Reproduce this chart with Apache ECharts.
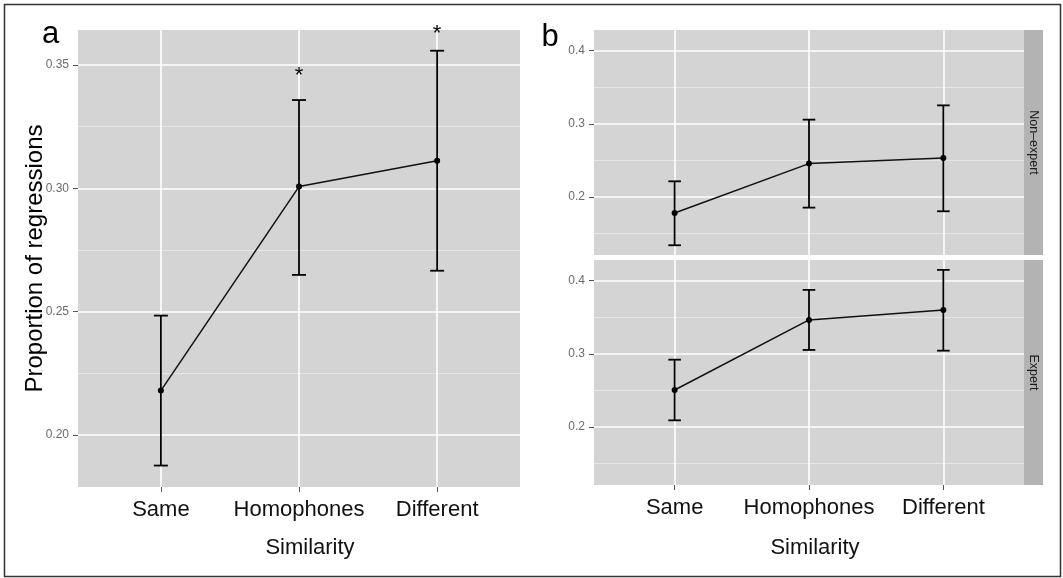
<!DOCTYPE html>
<html>
<head>
<meta charset="utf-8">
<style>
  html, body { margin: 0; padding: 0; background: #fff; }
  #chart { width: 1063px; height: 578px; }
</style>
<script src="https://cdn.jsdelivr.net/npm/echarts@6/dist/echarts.min.js"></script>
</head>
<body>
<div id="chart"></div>
<script>
// x categories
const similarity = ['Same', 'Homophones', 'Different'];

// panel a: proportion of regressions, all readers
const allMean = [0.218, 0.3007, 0.3112];
const allLower = [0.1876, 0.2649, 0.2666];
const allUpper = [0.2484, 0.3358, 0.3558];
const allStarY = [null, 0.3462, 0.3635]; // significance marks

// panel b: split by expertise
const nonExpertMean = [0.1782, 0.2456, 0.2532];
const nonExpertLower = [0.1341, 0.1855, 0.1805];
const nonExpertUpper = [0.2214, 0.3056, 0.3251];
const expertMean = [0.2505, 0.3462, 0.3598];
const expertLower = [0.2091, 0.3052, 0.3042];
const expertUpper = [0.2919, 0.3872, 0.4145];

// tick labels
const yTicksA = [0.20, 0.25, 0.30, 0.35];
const yMinorA = [0.225, 0.275, 0.325];
const yTicksB = [0.2, 0.3, 0.4];
const yMinorB = [0.15, 0.25, 0.35];

const FONT = 'Liberation Sans, Arial, sans-serif';
const xPos = similarity.map((c, i) => i + 1);

const chart = echarts.init(document.getElementById('chart'));

function xAxis(gridIndex, showLabels) {
  return {
    type: 'value', gridIndex: gridIndex, min: 0.4, max: 3.6,
    axisLine: { show: false },
    axisTick: { show: showLabels, customValues: xPos, length: 5, lineStyle: { color: '#555', width: 1 } },
    axisLabel: {
      show: showLabels, customValues: xPos, margin: 12,
      formatter: v => similarity[Math.round(v) - 1],
      fontSize: 22, color: '#111', fontFamily: FONT
    },
    splitLine: { show: true, lineStyle: { color: '#ffffff', width: 1.6 } }
  };
}

function yAxisMajor(gridIndex, min, max, ticks, digits) {
  return {
    type: 'value', gridIndex: gridIndex, min: min, max: max,
    axisLine: { show: false },
    axisTick: { show: true, customValues: ticks, length: 5, lineStyle: { color: '#555', width: 1 } },
    axisLabel: {
      customValues: ticks, margin: 9,
      formatter: v => v.toFixed(digits),
      fontSize: 12, color: '#6b6b6b', fontFamily: FONT
    },
    splitLine: { show: true, lineStyle: { color: '#ffffff', width: 1.6 } }
  };
}

function yAxisMinor(gridIndex, min, max, ticks) {
  return {
    type: 'value', gridIndex: gridIndex, min: min, max: max, position: 'left',
    axisLine: { show: false },
    axisTick: { show: false, customValues: ticks },
    axisLabel: { show: false, customValues: ticks },
    splitLine: { show: true, lineStyle: { color: '#e6e6e6', width: 1 } }
  };
}

function errorBars(capHalf) {
  return function (params, api) {
    const x = api.value(0);
    const lo = api.coord([x, api.value(1)]);
    const hi = api.coord([x, api.value(2)]);
    const st = { stroke: '#000', lineWidth: 1.8 };
    return {
      type: 'group',
      children: [
        { type: 'line', shape: { x1: lo[0], y1: lo[1], x2: hi[0], y2: hi[1] }, style: st },
        { type: 'line', shape: { x1: lo[0] - capHalf, y1: lo[1], x2: lo[0] + capHalf, y2: lo[1] }, style: st },
        { type: 'line', shape: { x1: hi[0] - capHalf, y1: hi[1], x2: hi[0] + capHalf, y2: hi[1] }, style: st }
      ]
    };
  };
}

function lineSeries(axisIdx, means) {
  return {
    type: 'line', xAxisIndex: axisIdx, yAxisIndex: axisIdx * 2,
    data: means.map((v, i) => [xPos[i], v]),
    symbol: 'circle', symbolSize: 6, showSymbol: true,
    itemStyle: { color: '#000' },
    lineStyle: { color: '#111', width: 1.5 },
    z: 4, silent: true
  };
}

function barSeries(axisIdx, lower, upper, capHalf) {
  return {
    type: 'custom', xAxisIndex: axisIdx, yAxisIndex: axisIdx * 2,
    data: lower.map((v, i) => [xPos[i], v, upper[i]]),
    encode: { x: 0, y: [1, 2] },
    renderItem: errorBars(capHalf),
    z: 3, silent: true
  };
}

const stripStyle = { fill: '#b3b3b3' };

chart.setOption({
  animation: false,
  backgroundColor: '#ffffff',
  grid: [
    { left: 78, top: 30, width: 442, height: 457, show: true, backgroundColor: '#d4d4d4', borderWidth: 0 },
    { left: 594, top: 30, width: 430, height: 225, show: true, backgroundColor: '#d4d4d4', borderWidth: 0 },
    { left: 594, top: 260, width: 430, height: 225, show: true, backgroundColor: '#d4d4d4', borderWidth: 0 }
  ],
  xAxis: [xAxis(0, true), xAxis(1, false), xAxis(2, true)],
  yAxis: [
    yAxisMajor(0, 0.1789, 0.3642, yTicksA, 2), yAxisMinor(0, 0.1789, 0.3642, yMinorA),
    yAxisMajor(1, 0.1208, 0.428, yTicksB, 1), yAxisMinor(1, 0.1208, 0.428, yMinorB),
    yAxisMajor(2, 0.1208, 0.428, yTicksB, 1), yAxisMinor(2, 0.1208, 0.428, yMinorB)
  ],
  series: [
    barSeries(0, allLower, allUpper, 7),
    lineSeries(0, allMean),
    {
      type: 'custom', xAxisIndex: 0, yAxisIndex: 0,
      data: xPos.map((x, i) => [x, allStarY[i]]).filter(d => d[1] != null),
      renderItem: function (params, api) {
        const p = api.coord([api.value(0), api.value(1)]);
        return {
          type: 'text', x: p[0], y: p[1] + 2,
          style: { text: '*', fontSize: 22, fontFamily: FONT, fill: '#000', align: 'center', verticalAlign: 'middle' }
        };
      },
      z: 5, silent: true
    },
    barSeries(1, nonExpertLower, nonExpertUpper, 6.3),
    lineSeries(1, nonExpertMean),
    barSeries(2, expertLower, expertUpper, 6.3),
    lineSeries(2, expertMean)
  ],
  graphic: [
    { type: 'rect', shape: { x: 4.5, y: 4.5, width: 1056, height: 572 }, style: { fill: 'none', stroke: '#333', lineWidth: 1.5 }, silent: true },
    { type: 'text', x: 42, y: 34.3, style: { text: 'a', fontSize: 31, fontFamily: FONT, fill: '#000', verticalAlign: 'middle' } },
    { type: 'text', x: 541.5, y: 37.3, style: { text: 'b', fontSize: 31, fontFamily: FONT, fill: '#000', verticalAlign: 'middle' } },
    { type: 'text', x: 35, y: 258.5, rotation: Math.PI / 2,
      style: { text: 'Proportion of regressions', fontSize: 24, fontFamily: FONT, fill: '#000', align: 'center', verticalAlign: 'middle' } },
    { type: 'text', x: 310, y: 548, style: { text: 'Similarity', fontSize: 22, fontFamily: FONT, fill: '#111', align: 'center', verticalAlign: 'middle' } },
    { type: 'text', x: 815, y: 548, style: { text: 'Similarity', fontSize: 22, fontFamily: FONT, fill: '#111', align: 'center', verticalAlign: 'middle' } },
    { type: 'rect', shape: { x: 1024, y: 30, width: 19, height: 225 }, style: stripStyle, silent: true },
    { type: 'rect', shape: { x: 1024, y: 260, width: 19, height: 225 }, style: stripStyle, silent: true },
    { type: 'text', x: 1033.5, y: 142.5, rotation: -Math.PI / 2,
      style: { text: 'Non\u2013expert', fontSize: 12.5, fontFamily: FONT, fill: '#1a1a1a', align: 'center', verticalAlign: 'middle' } },
    { type: 'text', x: 1033.5, y: 372.5, rotation: -Math.PI / 2,
      style: { text: 'Expert', fontSize: 12.5, fontFamily: FONT, fill: '#1a1a1a', align: 'center', verticalAlign: 'middle' } }
  ]
});
</script>
</body>
</html>
